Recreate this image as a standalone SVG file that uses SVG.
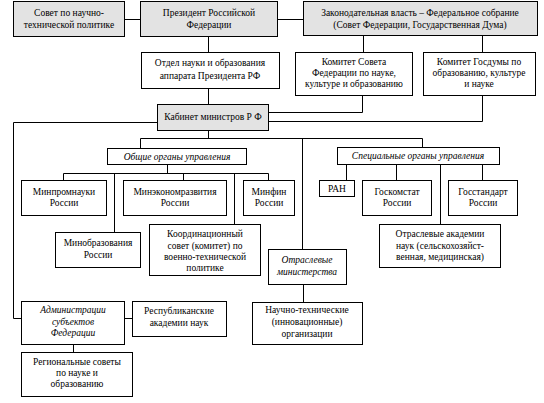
<svg xmlns="http://www.w3.org/2000/svg" width="544" height="403" viewBox="0 0 544 403" font-family="'Liberation Serif', 'DejaVu Serif', serif" font-size="9.5">
<style>
rect{stroke:#000;stroke-width:1;fill:#fff}
rect.g{fill:#e3e3e3}
text{fill:#000;text-anchor:middle}
text.i{font-style:italic}
#connectors path{stroke:#000;stroke-width:1;fill:none}
</style>
<rect width="544" height="403" fill="#fff" style="stroke:none"/>
<g id="connectors">
<path d="M124,19.5H140M277,19.5H303M208.5,36V52M208.5,88V104M363.5,35V52M482.5,35V52"/>
<path d="M362.5,95V112.5H268M482.5,95V121.5H268"/>
<path d="M157,122.5H13.5V318.5H21M124,318.5H132M73.5,344V352"/>
<path d="M208.5,130V138.5M140.5,138.5H422.5M140.5,138.5V148M422.5,138.5V147M302.5,138.5V249"/>
<path d="M167.5,164V173.5M63.5,173.5H268.5M63.5,173.5V180M183.5,173.5V180M268.5,173.5V180M114.5,173.5V232M234.5,173.5V224"/>
<path d="M346.5,164V180M396.5,164V180M440.5,164V224M482.5,164V180M303.5,284V302"/>
</g>
<g id="n-sovet"><rect class="g" x="13.5" y="1.5" width="111" height="35"/><text x="69" y="16">Совет по научно-</text><text x="69" y="28">технической политике</text></g>
<g id="n-president"><rect class="g" x="140.5" y="1.5" width="137" height="35"/><text x="209" y="16">Президент Российской</text><text x="209" y="28">Федерации</text></g>
<g id="n-zakon"><rect class="g" x="303.5" y="1.5" width="234" height="34"/><text x="420" y="16">Законодательная власть – Федеральное собрание</text><text x="420" y="28">(Совет Федерации, Государственная Дума)</text></g>
<g id="n-otdel"><rect x="141.5" y="52.5" width="138" height="36"/><text x="210" y="66">Отдел науки и образования</text><text x="210" y="79">аппарата Президента РФ</text></g>
<g id="n-komsf"><rect x="295.5" y="52.5" width="117" height="43"/><text x="354" y="65">Комитет Совета</text><text x="354" y="76">Федерации по науке,</text><text x="354" y="87">культуре и образованию</text></g>
<g id="n-komgd"><rect x="423.5" y="52.5" width="112" height="43"/><text x="479" y="65">Комитет Госдумы по</text><text x="479" y="76">образованию, культуре</text><text x="479" y="87">и науке</text></g>
<g id="n-kabinet"><rect class="g" x="157.5" y="104.5" width="111" height="26"/><text x="213" y="120">Кабинет министров Р Ф</text></g>
<g id="n-obshchie"><rect x="107.5" y="148.5" width="139" height="16"/><text class="i" x="177" y="159.5">Общие органы управления</text></g>
<g id="n-spec"><rect x="337.5" y="147.5" width="162" height="17"/><text class="i" x="418" y="159">Специальные органы управления</text></g>
<g id="n-minprom"><rect x="21.5" y="180.5" width="85" height="35"/><text x="64" y="195">Минпромнауки</text><text x="64" y="206">России</text></g>
<g id="n-minekon"><rect x="123.5" y="180.5" width="103" height="35"/><text x="175" y="195">Минэкономразвития</text><text x="175" y="206">России</text></g>
<g id="n-minfin"><rect x="243.5" y="180.5" width="51" height="35"/><text x="269" y="195">Минфин</text><text x="269" y="206">России</text></g>
<g id="n-ran"><rect x="319.5" y="180.5" width="35" height="16"/><text x="337" y="192">РАН</text></g>
<g id="n-goskomstat"><rect x="362.5" y="180.5" width="69" height="35"/><text x="397" y="195">Госкомстат</text><text x="397" y="206">России</text></g>
<g id="n-gosstandart"><rect x="448.5" y="180.5" width="69" height="35"/><text x="483" y="195">Госстандарт</text><text x="483" y="206">России</text></g>
<g id="n-minobr"><rect x="55.5" y="232.5" width="85" height="35"/><text x="98" y="246">Минобразования</text><text x="98" y="258">России</text></g>
<g id="n-koord"><rect x="149.5" y="224.5" width="111" height="51"/><text x="205" y="237">Координационный</text><text x="205" y="249">совет (комитет) по</text><text x="205" y="260">военно-технической</text><text x="205" y="271">политике</text></g>
<g id="n-otrakad"><rect x="379.5" y="224.5" width="121" height="43"/><text x="440" y="237">Отраслевые академии</text><text x="440" y="249">наук (сельскохозяйст-</text><text x="440" y="260">венная, медицинская)</text></g>
<g id="n-otrmin"><rect x="268.5" y="249.5" width="78" height="35"/><text class="i" x="307" y="263">Отраслевые</text><text class="i" x="307" y="275">министерства</text></g>
<g id="n-nauchtech"><rect x="252.5" y="302.5" width="110" height="42"/><text x="307" y="313">Научно-технические</text><text x="307" y="325">(инновационные)</text><text x="307" y="337">организации</text></g>
<g id="n-admin"><rect x="21.5" y="301.5" width="103" height="43"/><text class="i" x="73" y="313">Администрации</text><text class="i" x="73" y="325">субъектов</text><text class="i" x="73" y="336">Федерации</text></g>
<g id="n-respakad"><rect x="132.5" y="301.5" width="94" height="35"/><text x="179" y="314">Республиканские</text><text x="179" y="326">академии наук</text></g>
<g id="n-region"><rect x="21.5" y="352.5" width="111" height="44"/><text x="77" y="365">Региональные советы</text><text x="77" y="376">по науке и</text><text x="77" y="387">образованию</text></g>
</svg>
